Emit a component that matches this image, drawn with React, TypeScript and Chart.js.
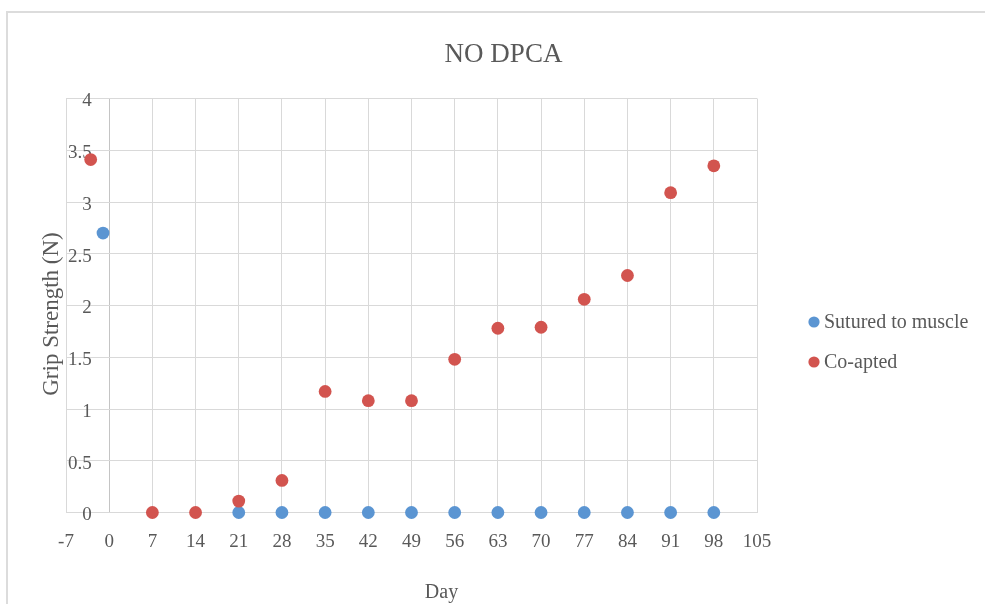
import React, { useEffect, useRef } from "react";
import { Chart, registerables } from "chart.js";

Chart.register(...registerables);

const CHART_TITLE = "NO DPCA";
const X_TITLE = "Day";
const Y_TITLE = "Grip Strength (N)";
const SERIES_NAMES = ["Sutured to muscle", "Co-apted"];
const SERIES_COLORS = ["#5B95D2", "#D2544F"];

const SUTURED_X = [-1, 21, 28, 35, 42, 49, 56, 63, 70, 77, 84, 91, 98];
const SUTURED_Y = [2.7, 0, 0, 0, 0, 0, 0, 0, 0, 0, 0, 0, 0];

const COAPTED_X = [-3, 7, 14, 21, 28, 35, 42, 49, 56, 63, 70, 77, 84, 91, 98];
const COAPTED_Y = [3.41, 0, 0, 0.11, 0.31, 1.17, 1.08, 1.08, 1.48, 1.78, 1.79, 2.06, 2.29, 3.09, 3.35];

const X_MIN = -7;
const X_MAX = 105;
const X_STEP = 7;
const Y_MIN = 0;
const Y_MAX = 4;
const Y_STEP = 0.5;

const FONT = "'Liberation Serif', 'Times New Roman', serif";
const TEXT_COLOR = "#595959";
const GRID_COLOR = "#d9d9d9";

const textPlugin = {
  id: "excelTexts",
  afterDraw(chart: any) {
    const ctx = chart.ctx as CanvasRenderingContext2D;
    ctx.save();
    ctx.fillStyle = TEXT_COLOR;

    // chart title
    ctx.font = `27px ${FONT}`;
    ctx.textAlign = "center";
    ctx.textBaseline = "alphabetic";
    ctx.fillText(CHART_TITLE, 503.5, 61.5);

    // x title
    ctx.font = `20px ${FONT}`;
    ctx.fillText(X_TITLE, 441.5, 598);

    // y title
    ctx.save();
    ctx.translate(58, 314);
    ctx.rotate(-Math.PI / 2);
    ctx.font = `23px ${FONT}`;
    ctx.textAlign = "center";
    ctx.textBaseline = "alphabetic";
    ctx.fillText(Y_TITLE, 0, 0);
    ctx.restore();

    // legend
    const ds = chart.data.datasets;
    ctx.font = `20px ${FONT}`;
    ctx.textAlign = "left";
    ctx.textBaseline = "middle";
    for (let i = 0; i < ds.length; i++) {
      const cy = 322 + i * 40;
      ctx.beginPath();
      ctx.fillStyle = ds[i].backgroundColor;
      ctx.arc(814, cy, 5.6, 0, Math.PI * 2);
      ctx.fill();
      ctx.fillStyle = TEXT_COLOR;
      ctx.fillText(ds[i].label, 824, cy + 1);
    }
    ctx.restore();
  },
};

export default function App() {
  const ref = useRef<HTMLCanvasElement | null>(null);

  useEffect(() => {
    if (!ref.current) return;
    const sutured = SUTURED_X.map((x, i) => ({ x, y: SUTURED_Y[i] }));
    const coapted = COAPTED_X.map((x, i) => ({ x, y: COAPTED_Y[i] }));
    const chart = new Chart(ref.current, {
      type: "scatter",
      data: {
        datasets: [
          {
            label: SERIES_NAMES[0],
            data: sutured,
            backgroundColor: SERIES_COLORS[0],
            borderColor: SERIES_COLORS[0],
            borderWidth: 0,
            pointRadius: 6.4,
            pointHoverRadius: 6.4,
            order: 1,
            clip: false,
          },
          {
            label: SERIES_NAMES[1],
            data: coapted,
            backgroundColor: SERIES_COLORS[1],
            borderColor: SERIES_COLORS[1],
            borderWidth: 0,
            pointRadius: 6.4,
            pointHoverRadius: 6.4,
            order: 0,
            clip: false,
          },
        ],
      },
      options: {
        responsive: false,
        animation: false,
        devicePixelRatio: 1,
        layout: { padding: { left: 6, right: 228, top: 98.5, bottom: 31.5 } },
        plugins: {
          legend: { display: false },
          title: { display: false },
          tooltip: { enabled: false },
        },
        scales: {
          x: {
            type: "linear",
            position: "bottom",
            min: X_MIN,
            max: X_MAX,
            afterFit: (s: any) => {
              s.height = 60;
            },
            ticks: {
              stepSize: X_STEP,
              autoSkip: false,
              maxRotation: 0,
              padding: 18,
              color: TEXT_COLOR,
              font: { family: FONT, size: 19 },
              callback: (v: any) => String(v),
            },
            grid: {
              drawTicks: false,
              lineWidth: 1,
              color: (c: any) => (c.tick && c.tick.value === 0 ? "#c4c4c4" : GRID_COLOR),
            },
            border: { color: GRID_COLOR, width: 1 },
          },
          y: {
            type: "linear",
            position: "left",
            min: Y_MIN,
            max: Y_MAX,
            afterFit: (s: any) => {
              s.width = 60;
            },
            ticks: {
              stepSize: Y_STEP,
              mirror: true,
              crossAlign: "far",
              padding: 2,
              labelOffset: 3,
              color: TEXT_COLOR,
              font: { family: FONT, size: 19 },
              callback: (v: any) => String(v),
            },
            grid: { drawTicks: false, lineWidth: 1, color: GRID_COLOR },
            border: { color: GRID_COLOR, width: 1 },
          },
        },
      },
      plugins: [textPlugin],
    } as any);
    return () => chart.destroy();
  }, []);

  return (
    <div
      style={{
        position: "fixed",
        left: 0,
        top: 0,
        width: 985,
        height: 604,
        background: "#fff",
        overflow: "hidden",
      }}
    >
      <div
        style={{
          position: "absolute",
          left: 6,
          top: 10.5,
          width: 1100,
          height: 800,
          border: "2px solid #dcdcdc",
          boxSizing: "border-box",
        }}
      />
      <canvas
        ref={ref}
        width={985}
        height={604}
        style={{ position: "absolute", left: 0, top: 0, width: 985, height: 604 }}
      />
    </div>
  );
}
